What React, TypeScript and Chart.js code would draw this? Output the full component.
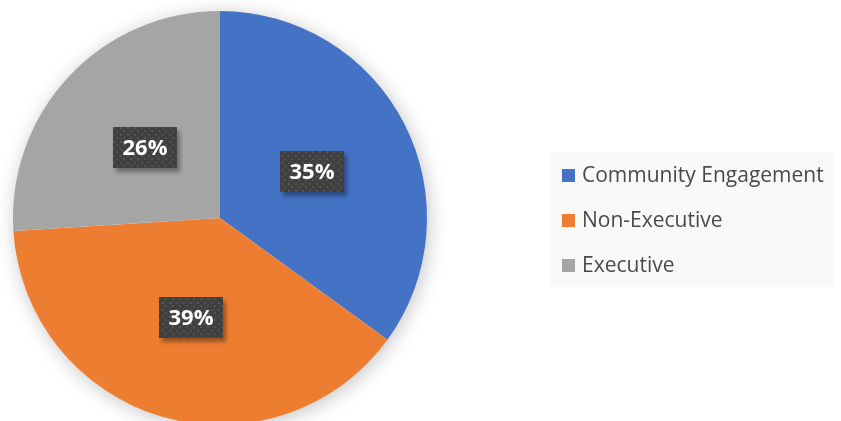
import React, { useEffect, useRef } from "react";
import { Chart, registerables } from "chart.js";

Chart.register(...registerables);

const categories = ["Community Engagement", "Non-Executive", "Executive"];
const values = [35, 39, 26];
const colors = ["#4472C4", "#ED7D31", "#A5A5A5"];

const FONT = '"Open Sans", "Noto Sans", sans-serif';

function makePattern(ctx: CanvasRenderingContext2D) {
  const c = document.createElement("canvas");
  c.width = 7;
  c.height = 7;
  const p = c.getContext("2d")!;
  p.fillStyle = "#404040";
  p.fillRect(0, 0, 7, 7);
  p.fillStyle = "#525252";
  p.fillRect(1, 1, 2, 2);
  p.fillRect(4, 4, 2, 2);
  return ctx.createPattern(c, "repeat");
}

const shadowPlugin = {
  id: "pieShadow",
  beforeDatasetsDraw(chart: any) {
    const meta = chart.getDatasetMeta(0);
    const arc = meta.data[0];
    if (!arc) return;
    const { x, y, outerRadius } = arc.getProps(["x", "y", "outerRadius"], true);
    const ctx = chart.ctx;
    ctx.save();
    ctx.shadowColor = "rgba(0,0,0,0.25)";
    ctx.shadowBlur = 20;
    ctx.shadowOffsetX = 2;
    ctx.shadowOffsetY = 3;
    ctx.fillStyle = "#ffffff";
    ctx.beginPath();
    ctx.arc(x, y, outerRadius - 1, 0, Math.PI * 2);
    ctx.fill();
    ctx.restore();
  },
};

const labelPlugin = {
  id: "pctLabels",
  afterDatasetsDraw(chart: any) {
    const ctx = chart.ctx as CanvasRenderingContext2D;
    const meta = chart.getDatasetMeta(0);
    const data = chart.data.datasets[0].data as number[];
    const total = data.reduce((a, b) => a + b, 0);
    const pattern = makePattern(ctx);
    meta.data.forEach((arc: any, i: number) => {
      const pos = arc.tooltipPosition(true);
      const text = Math.round((data[i] / total) * 100) + "%";
      const w = 64;
      const h = 41;
      const bx = Math.round(pos.x - w / 2);
      const by = Math.round(pos.y - h / 2);
      ctx.save();
      ctx.shadowColor = "rgba(0,0,0,0.35)";
      ctx.shadowBlur = 4;
      ctx.shadowOffsetX = 3;
      ctx.shadowOffsetY = 4;
      ctx.fillStyle = "#404040";
      ctx.fillRect(bx, by, w, h);
      ctx.restore();
      ctx.save();
      ctx.fillStyle = pattern || "#404040";
      ctx.fillRect(bx, by, w, h);
      ctx.fillStyle = "#ffffff";
      ctx.font = "bold 22px " + FONT;
      ctx.textAlign = "center";
      ctx.textBaseline = "middle";
      ctx.fillText(text, bx + w / 2, by + h / 2 + 1);
      ctx.restore();
    });
  },
};

const legendPlugin = {
  id: "boxLegend",
  afterDraw(chart: any) {
    const ctx = chart.ctx as CanvasRenderingContext2D;
    const labels = chart.data.labels as string[];
    const bg = chart.data.datasets[0].backgroundColor as string[];
    ctx.save();
    ctx.fillStyle = "#f9f9f9";
    ctx.fillRect(550, 152, 284, 135);
    labels.forEach((lab, i) => {
      const cy = 175 + i * 45;
      ctx.fillStyle = bg[i];
      ctx.fillRect(562, cy - 6, 13, 13);
      ctx.fillStyle = "#4a4a4a";
      ctx.font = "21px " + FONT;
      ctx.textAlign = "left";
      ctx.textBaseline = "middle";
      ctx.fillText(lab, 582, cy + 1);
    });
    ctx.restore();
  },
};

export default function App() {
  const ref = useRef<HTMLCanvasElement | null>(null);
  useEffect(() => {
    if (!ref.current) return;
    const chart = new Chart(ref.current, {
      type: "pie",
      data: {
        labels: categories,
        datasets: [
          {
            data: values,
            backgroundColor: colors,
            borderWidth: 0,
            hoverOffset: 0,
          },
        ],
      },
      options: {
        responsive: false,
        animation: false,
        layout: { padding: { left: 13, right: 414, top: 11, bottom: 5 } },
        plugins: {
          legend: { display: false },
          tooltip: { enabled: false },
        },
      },
      plugins: [shadowPlugin, labelPlugin, legendPlugin],
    });
    return () => chart.destroy();
  }, []);
  return (
    <div
      style={{
        position: "absolute",
        left: 0,
        top: 0,
        width: 841,
        height: 421,
        overflow: "hidden",
        background: "#ffffff",
      }}
    >
      <canvas ref={ref} width={841} height={430} style={{ display: "block" }} />
    </div>
  );
}
